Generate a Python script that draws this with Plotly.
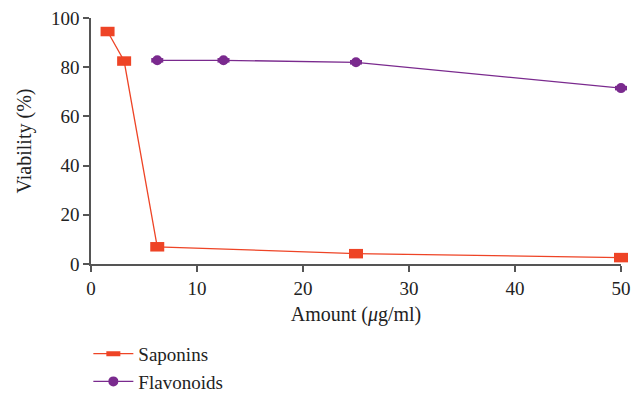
import plotly.graph_objects as go

sap_x = [1.5625, 3.125, 6.25, 25, 50]
sap_y = [94.5, 82.5, 7.0, 4.2, 2.6]
flav_x = [6.25, 12.5, 25, 50]
flav_y = [82.8, 82.8, 82.0, 71.5]

x_ticks = [0, 10, 20, 30, 40, 50]
y_ticks = [0, 20, 40, 60, 80, 100]

FONT = "Liberation Serif"
red = "#EE4426"
purple = "#7A2A8E"
txt = "#222222"

fig = go.Figure()
fig.add_trace(go.Scatter(
    x=sap_x, y=sap_y, name="Saponins", mode="lines+markers",
    line=dict(color=red, width=1.3),
    marker=dict(symbol="line-ew", size=10, color=red, line=dict(color=red, width=9.5)),
    cliponaxis=False,
))
fig.add_trace(go.Scatter(
    x=flav_x, y=flav_y, name="Flavonoids", mode="lines+markers",
    line=dict(color=purple, width=1.3),
    marker=dict(symbol="circle", size=10, color=purple, line=dict(width=0)),
    cliponaxis=False,
))
# widen the circular markers into ellipses
fig.add_trace(go.Scatter(
    x=flav_x, y=flav_y, mode="markers", showlegend=False, hoverinfo="skip",
    marker=dict(symbol="line-ew", size=8.6, color=purple, line=dict(color=purple, width=4.5)),
    cliponaxis=False,
))

axis_common = dict(
    showgrid=False, zeroline=False, showline=True, linecolor="#555555", linewidth=1.5,
    ticks="outside", ticklen=6, tickwidth=1.5, tickcolor="#555555",
    tickfont=dict(family=FONT, size=19, color=txt),
)
fig.update_xaxes(range=[0, 50], tickvals=x_ticks, **axis_common,
                 title=dict(text="Amount (<i>μ</i>g/ml)", font=dict(family=FONT, size=20, color=txt), standoff=9))
fig.update_yaxes(range=[0, 100], tickvals=y_ticks, **axis_common,
                 title=dict(text="Viability (%)", font=dict(family=FONT, size=20, color=txt), standoff=14))

fig.update_layout(
    width=643, height=393,
    margin=dict(l=91, r=22, t=18, b=128.5, autoexpand=False),
    plot_bgcolor="white", paper_bgcolor="white",
    showlegend=True,
    legend=dict(x=-0.005, y=-0.288, xanchor="left", yanchor="top",
                font=dict(family=FONT, size=19, color=txt),
                bgcolor="rgba(0,0,0,0)", itemwidth=40, tracegroupgap=0),
)
fig.write_html("out.html", config={"displayModeBar": False},
               post_script="document.body.style.margin='0';document.body.style.overflow='hidden';")
